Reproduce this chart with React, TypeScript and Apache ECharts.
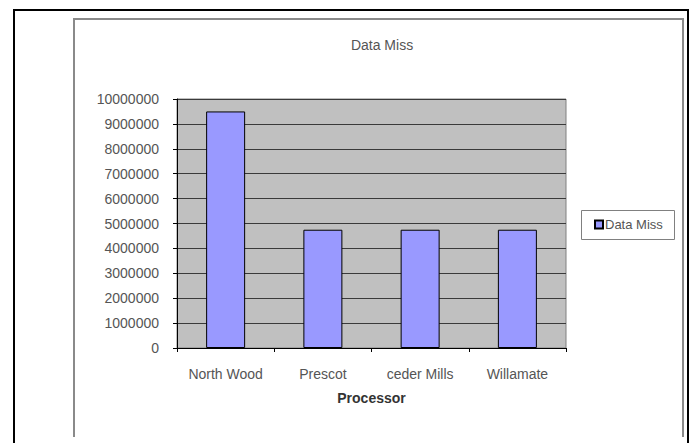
import React, { useEffect, useRef } from "react";
import * as echarts from "echarts";

const processors = ["North Wood", "Prescot", "ceder Mills", "Willamate"];
const dataMiss = [9500000, 4750000, 4750000, 4750000];
const yTicks = { min: 0, max: 10000000, interval: 1000000 };

const FONT = "'Liberation Sans', Arial, sans-serif";
const TEXT = "#555555";

export default function App() {
  const ref = useRef<HTMLDivElement>(null);

  useEffect(() => {
    if (!ref.current) return;
    const chart = echarts.init(ref.current, null, { renderer: "svg" });
    chart.setOption({
      animation: false,
      backgroundColor: "#ffffff",
      title: {
        text: "Data Miss",
        left: 382,
        top: 38,
        textAlign: "center",
        padding: 0,
        textStyle: { fontFamily: FONT, fontSize: 14, fontWeight: "normal", color: TEXT },
      },
      legend: {
        data: ["Data Miss"],
        left: 594,
        top: 218,
        padding: 0,
        itemWidth: 8,
        itemHeight: 8,
        itemGap: 0,
        icon: "rect",
        textStyle: { fontFamily: FONT, fontSize: 13, color: TEXT, padding: [0, 0, 0, -3] },
      },
      grid: {
        left: 177,
        top: 99,
        right: 125,
        bottom: 95,
        show: true,
        backgroundColor: "#c0c0c0",
        borderColor: "#808080",
        borderWidth: 1,
      },
      xAxis: {
        type: "category",
        data: processors,
        name: "Processor",
        nameLocation: "middle",
        nameGap: 43,
        nameTextStyle: { fontFamily: FONT, fontSize: 14, fontWeight: "bold", color: "#333333" },
        axisLine: { show: true, lineStyle: { color: "#000000", width: 1 } },
        axisTick: { show: true, length: 4, alignWithLabel: false, lineStyle: { color: "#000000" } },
        axisLabel: { fontFamily: FONT, fontSize: 14, color: TEXT, margin: 19 },
        splitLine: { show: false },
      },
      yAxis: {
        type: "value",
        min: yTicks.min,
        max: yTicks.max,
        interval: yTicks.interval,
        axisLine: { show: true, lineStyle: { color: "#000000", width: 1 } },
        axisTick: { show: true, length: 4, lineStyle: { color: "#000000" } },
        axisLabel: {
          fontFamily: FONT,
          fontSize: 14,
          color: TEXT,
          margin: 18,
          formatter: (v: number) => String(v),
        },
        splitLine: { show: true, lineStyle: { color: "#3a3a3a", width: 1 } },
      },
      series: [
        {
          name: "Data Miss",
          type: "bar",
          data: dataMiss,
          barWidth: 39,
          itemStyle: { color: "#9999ff", borderColor: "#000000", borderWidth: 1 },
        },
      ],
      graphic: [
        {
          type: "polyline",
          shape: { points: [[14, 443], [14, 10], [688, 10], [688, 443]] },
          style: { stroke: "#000000", lineWidth: 2, fill: "none" },
          silent: true,
        },
        {
          type: "polyline",
          shape: { points: [[74, 437], [74, 19], [683, 19], [683, 437]] },
          style: { stroke: "#8a8a8a", lineWidth: 2, fill: "none" },
          silent: true,
        },
        {
          type: "rect",
          shape: { x: 581.5, y: 210.5, width: 93, height: 29 },
          style: { stroke: "#808080", lineWidth: 1, fill: "none" },
          silent: true,
        },
      ],
    });
    return () => chart.dispose();
  }, []);

  return (
    <div
      ref={ref}
      style={{ position: "fixed", left: 0, top: 0, width: 691, height: 443 }}
    />
  );
}
